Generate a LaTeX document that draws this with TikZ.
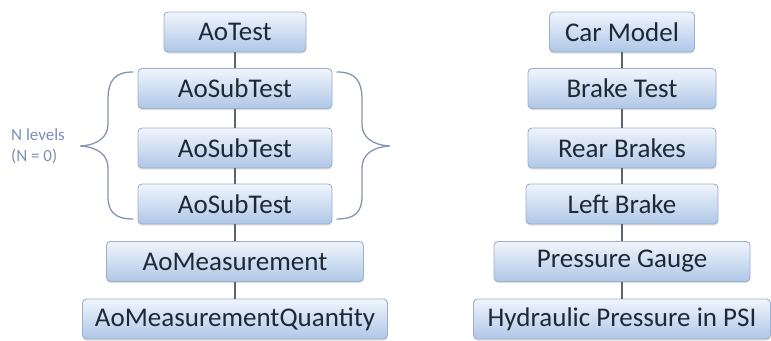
\documentclass[tikz,border=0pt]{standalone}
\usepackage{fontspec}
\setmainfont{Carlito}
\usetikzlibrary{shadows}
\definecolor{boxtop}{HTML}{F0F5FC}
\definecolor{boxbot}{HTML}{AFC7E7}
\definecolor{boxborder}{HTML}{9DB0CC}
\definecolor{txt}{HTML}{1F2835}
\definecolor{linecol}{HTML}{5C6472}
\definecolor{bracecol}{HTML}{8495B2}
\definecolor{notecol}{HTML}{7A90B8}
\begin{document}
\begin{tikzpicture}[x=1pt,y=-1pt,
  box/.style={draw=boxborder, line width=0.9pt, rounded corners=4pt,
    top color=boxtop, bottom color=boxbot, minimum height=40pt, inner sep=0pt,
    text=txt, font=\fontsize{27}{32}\selectfont,
    drop shadow={shadow xshift=0pt, shadow yshift=-1.5pt, opacity=0.25}},
  link/.style={draw=linecol, line width=1.4pt},
  brace/.style={draw=bracecol, line width=1.3pt, line cap=round}]
\useasboundingbox (0,0) rectangle (771,340);
% left column
\node[box, minimum width=142pt] (t)  at (235,32)  {AoTest};
\node[box, minimum width=194pt] (s1) at (235,88.5) {AoSubTest};
\node[box, minimum width=194pt] (s2) at (235,148) {AoSubTest};
\node[box, minimum width=194pt] (s3) at (235,204) {AoSubTest};
\node[box, minimum width=257pt] (m)  at (235,261.5) {AoMeasurement};
\node[box, minimum width=305pt] (q)  at (235,319) {AoMeasurementQuantity};
\draw[link] (t.south) -- (s1.north);
\draw[link] (s1.south) -- (s2.north);
\draw[link] (s2.south) -- (s3.north);
\draw[link] (s3.south) -- (m.north);
\draw[link] (m.south) -- (q.north);
% right column
\node[box, minimum width=145pt] (c)  at (622,32)  {Car Model};
\node[box, minimum width=188pt] (b)  at (622,88.5) {Brake Test};
\node[box, minimum width=188pt] (r)  at (622,148) {Rear Brakes};
\node[box, minimum width=192pt] (l)  at (622,204) {Left Brake};
\node[box, minimum width=256pt] (p)  at (622,261.5) {Pressure Gauge};
\node[box, minimum width=297pt] (h)  at (622,319) {Hydraulic Pressure in PSI};
\draw[link] (c.south) -- (b.north);
\draw[link] (b.south) -- (r.north);
\draw[link] (r.south) -- (l.north);
\draw[link] (l.south) -- (p.north);
\draw[link] (p.south) -- (h.north);
% braces
\draw[brace] (337,72) .. controls (355,72) and (362,80) .. (362,100) -- (362,124)
  .. controls (362,137) and (372,145) .. (390,146)
  .. controls (372,147) and (362,155) .. (362,168) -- (362,196)
  .. controls (362,212) and (355,219) .. (337,219);
\draw[brace] (133,72) .. controls (115,72) and (108,80) .. (108,100) -- (108,124)
  .. controls (108,137) and (98,145) .. (80,146)
  .. controls (98,147) and (108,155) .. (108,168) -- (108,196)
  .. controls (108,212) and (115,219) .. (133,219);
\node[anchor=west, align=left, text=notecol, font=\fontsize{17}{21}\selectfont, inner sep=0pt] (note) at (11,146) {N levels\\(N = 0)};
\end{tikzpicture}
\end{document}
